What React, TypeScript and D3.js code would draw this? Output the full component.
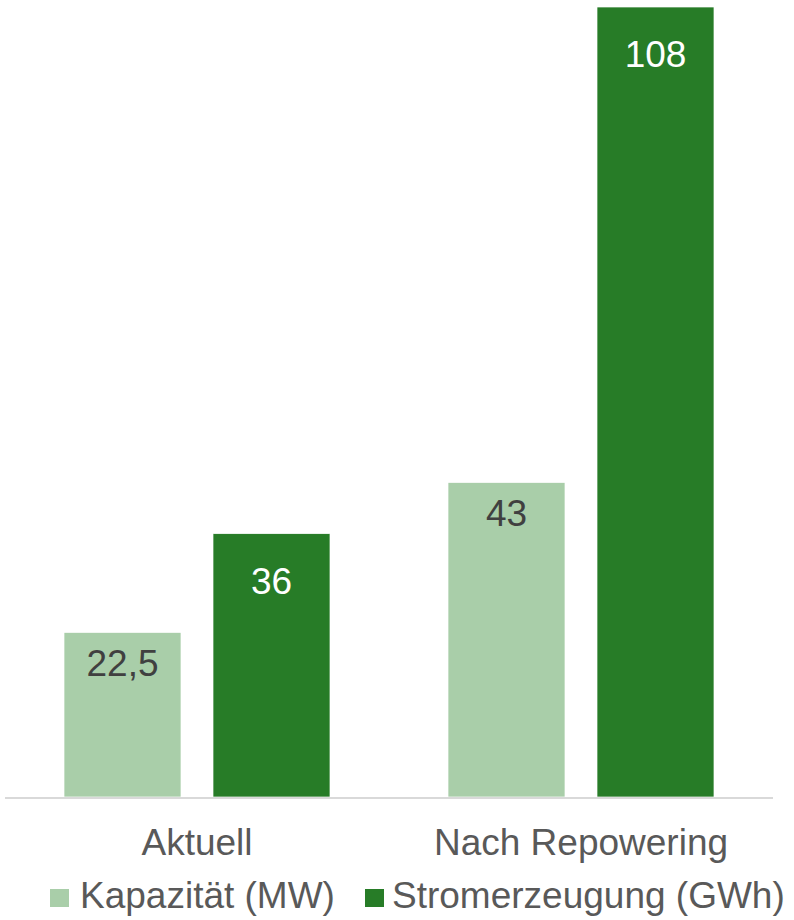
import React from "react";
import * as d3 from "d3";

const categories = ["Aktuell", "Nach Repowering"];
const seriesNames = ["Kapazität (MW)", "Stromerzeugung (GWh)"];
const kapazitaet = [22.5, 43];
const stromerzeugung = [36, 108];
const labelTexts = [["22,5", "43"], ["36", "108"]];

const colors = ["#a9cea9", "#277c27"];
const labelColors = ["#404040", "#ffffff"];
const labelOffsets = [44, 60];

export default function App() {
  const W = 794;
  const H = 920;
  const baseY = 797;
  const x0 = d3.scaleBand<string>().domain(categories).range([5, 773]).padding(0);
  const x1 = d3
    .scaleBand<string>()
    .domain(seriesNames)
    .range([0, x0.bandwidth()])
    .paddingInner(32 / 149)
    .paddingOuter(0.396);
  const y = d3.scaleLinear().domain([0, 108]).range([baseY, 7]);
  const values = [kapazitaet, stromerzeugung];
  const font = "'Liberation Sans', Arial, sans-serif";

  return (
    <svg
      width={W}
      height={H}
      style={{ position: "absolute", left: 0, top: 0, background: "#fff" }}
      fontFamily={font}
    >
      {categories.map((c, ci) => (
        <g key={c} transform={`translate(${x0(c)},0)`}>
          {seriesNames.map((s, si) => {
            const v = values[si][ci];
            const bx = x1(s)!;
            const bw = x1.bandwidth();
            const top = y(v);
            return (
              <g key={s}>
                <rect
                  x={bx}
                  y={top}
                  width={bw}
                  height={baseY - top}
                  fill={colors[si]}
                  stroke="#ffffff"
                  strokeWidth={0.7}
                />
                <text
                  x={bx + bw / 2}
                  y={top + labelOffsets[si]}
                  textAnchor="middle"
                  fontSize={37}
                  fill={labelColors[si]}
                >
                  {labelTexts[si][ci]}
                </text>
              </g>
            );
          })}
          <text
            x={x0.bandwidth() / 2}
            y={855}
            textAnchor="middle"
            fontSize={37}
            fill="#595959"
          >
            {c}
          </text>
        </g>
      ))}
      <line x1={5} x2={773} y1={798} y2={798} stroke="#d9d9d9" strokeWidth={2} />
      {[
        { x: 50, tx: 80 },
        { x: 365, tx: 392 },
      ].map((p, i) => (
        <g key={i}>
          <rect x={p.x} y={889} width={19} height={18} fill={colors[i]} />
          <text x={p.tx} y={908} fontSize={37} fill="#595959">
            {seriesNames[i]}
          </text>
        </g>
      ))}
    </svg>
  );
}
